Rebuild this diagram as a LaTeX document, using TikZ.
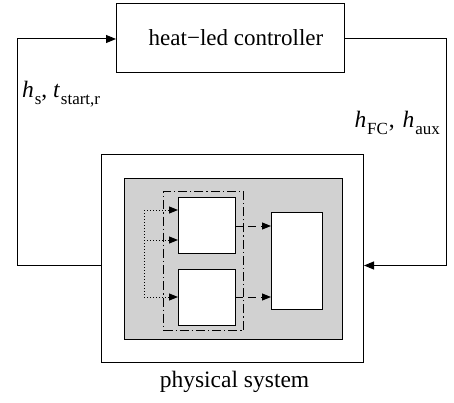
\documentclass[tikz,border=0pt]{standalone}
\usepackage{fontspec}
\setmainfont{Liberation Serif}
\usetikzlibrary{arrows.meta}
\newcommand{\mysub}[1]{\kern0.8pt\raisebox{-0.27em}{\fontsize{17}{20}\selectfont #1}}
\begin{document}
\begin{tikzpicture}[x=1pt,y=-1pt,
  box/.style={draw, line width=1pt, anchor=north west, inner sep=0pt},
  arr/.style={line width=1pt, -{Triangle[length=10pt,width=8pt]}},
  dotarr/.style={line width=1pt, dotted, -{Triangle[length=9pt,width=7pt]}},
  dasharr/.style={line width=1pt, dash pattern=on 8pt off 5pt, -{Triangle[length=9pt,width=7pt]}},
  dashdot/.style={draw, line width=1pt, dash pattern=on 9pt off 3pt on 1.2pt off 3pt},
  txt/.style={font=\fontsize{23.5}{28}\selectfont, inner sep=0pt}]
\useasboundingbox (0,0) rectangle (454,403);
% controller
\node[box, minimum width=228pt, minimum height=69pt, font=\fontsize{23}{28}\selectfont] (ctrl) at (116,3) {\hspace*{11pt}heat−led controller};
% physical system
\node[box, minimum width=262pt, minimum height=208pt] (phys) at (101,154) {};
\node[box, fill=black!18, minimum width=218pt, minimum height=161pt] (gray) at (124,178) {};
\node[dashdot, anchor=north west, inner sep=0pt, minimum width=80pt, minimum height=139pt] (grp) at (163,191) {};
\node[box, fill=white, minimum width=57pt, minimum height=56pt] (b1) at (178,197) {};
\node[box, fill=white, minimum width=57pt, minimum height=56pt] (b2) at (178,269) {};
\node[box, fill=white, minimum width=51pt, minimum height=97pt] (b3) at (271,212) {};
\node[txt, anchor=base] (plab) at (234.5,387) {physical system};
% loop
\coordinate (lc) at (17,39);
\coordinate (rc) at (446,39);
\draw[arr] ([yshift=-7pt]phys.west) -| (lc) -- (ctrl.west |- lc);
\draw[arr] (ctrl.east |- rc) -- (rc) |- ([yshift=-7pt]phys.east);
\node[txt, anchor=base west] (lin) at (22,98) {\textit{h}\mysub{s}, \textit{t}\mysub{start,r}};
\node[txt, anchor=base east] (lout) at (440,128) {\textit{h}\mysub{FC}\kern1pt,\kern2pt{} \textit{h}\mysub{aux}};
% dotted inputs
\coordinate (d1) at (144,210);
\coordinate (d2) at (144,240);
\coordinate (d3) at (144,297);
\draw[line width=1pt, dotted] (d1) -- (d3);
\draw[dotarr] (d1) -- (b1.west |- d1);
\draw[dotarr] (d2) -- (b1.west |- d2);
\draw[dotarr] (d3) -- (b2.west |- d3);
% dashed outputs
\coordinate (o1) at (235,226);
\coordinate (o2) at (235,297);
\draw[dasharr] (o1) -- (b3.west |- o1);
\draw[dasharr] (o2) -- (b3.west |- o2);
\end{tikzpicture}
\end{document}
